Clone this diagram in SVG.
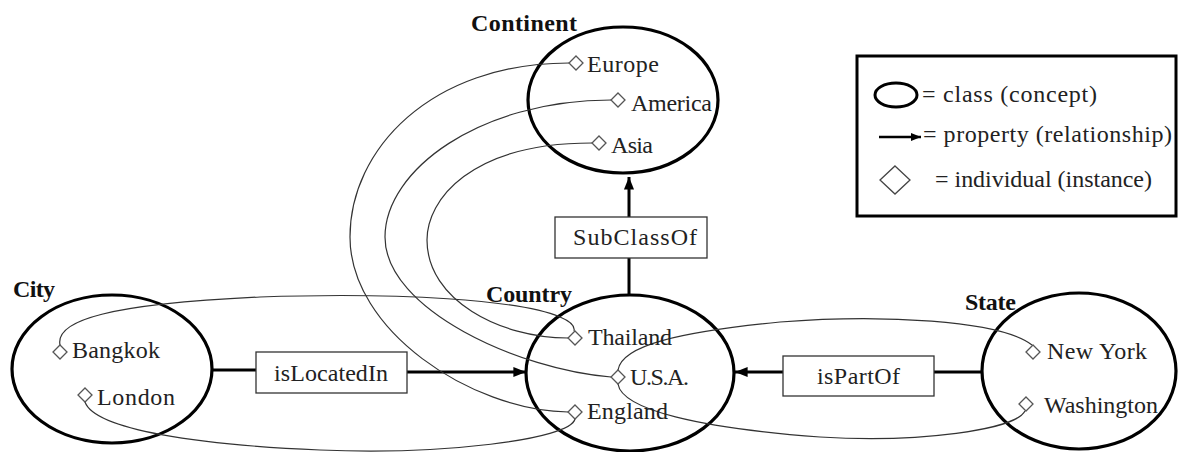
<svg xmlns="http://www.w3.org/2000/svg" width="1179" height="452" viewBox="0 0 1179 452">
  <defs>
    <marker id="arrow" viewBox="0 0 10 10" refX="10" refY="5" markerWidth="4.2" markerHeight="4.2" orient="auto" markerUnits="strokeWidth">
      <path d="M0,1 L10,5 L0,9 z" fill="#000"/>
    </marker>
    <path id="dia" d="M0,-7 L7,0 L0,7 L-7,0 z"/>
  </defs>
  <style>
    .cls { fill: none; stroke: #000; stroke-width: 3.2; }
    .rel { fill: none; stroke: #000; stroke-width: 3; }
    .box { fill: #fff; stroke: #333; stroke-width: 1.3; }
    .link { fill: none; stroke: #333; stroke-width: 1.2; }
    .ind { fill: #fff; stroke: #555; stroke-width: 1.3; }
    text { font-family: 'Liberation Serif', 'DejaVu Serif', serif; }
    .t { font-size: 24px; fill: #222; }
    .h { font-size: 24px; font-weight: bold; fill: #111; }
  </style>
  <rect width="1179" height="452" fill="#fff"/>

  <!-- class ellipses -->
  <g id="continent">
    <ellipse class="cls" cx="623" cy="100" rx="95" ry="73"/>
    <text class="h" x="471" y="31" textLength="106">Continent</text>
  </g>
  <g id="country">
    <ellipse class="cls" cx="630" cy="373" rx="104" ry="78"/>
    <text class="h" x="486" y="302" textLength="86">Country</text>
  </g>
  <g id="city">
    <ellipse class="cls" cx="112" cy="369" rx="100" ry="74"/>
    <text class="h" x="13" y="297" textLength="42">City</text>
  </g>
  <g id="state">
    <ellipse class="cls" cx="1079" cy="371" rx="97" ry="78"/>
    <text class="h" x="965" y="310" textLength="51">State</text>
  </g>

  <!-- property connectors -->
  <g id="connectors">
    <line class="rel" x1="629" y1="294" x2="629" y2="258"/>
    <line class="rel" x1="629" y1="217" x2="629" y2="177" marker-end="url(#arrow)"/>
    <line class="rel" x1="212" y1="370" x2="256" y2="370"/>
    <line class="rel" x1="407" y1="372" x2="526" y2="372" marker-end="url(#arrow)"/>
    <line class="rel" x1="982" y1="372" x2="934" y2="372"/>
    <line class="rel" x1="783" y1="372" x2="735" y2="372" marker-end="url(#arrow)"/>

    <!-- instance links -->
    <path class="link" d="M60,345 C55,320 110,304 260,297 C400,292 520,300 560,317 C572,322 575,327 574,331"/>
    <path class="link" d="M592,143 C470,143 427,200 427,240 C427,300 500,338 568,338"/>
    <path class="link" d="M611,100 C480,100 385,170 385,237 C385,310 520,370 611,377"/>
    <path class="link" d="M569,63 C430,63 350,150 350,237 C350,330 470,410 568,412"/>
    <path class="link" d="M85,402 C95,430 200,445 320,450 C440,455 570,440 575,419"/>
    <path class="link" d="M618,370 C622,345 680,332 780,322 C880,314 1000,320 1032,345"/>
    <path class="link" d="M618,384 C622,410 700,428 820,437 C920,443 1015,430 1025,411"/>
  </g>

  <!-- property labels -->
  <g id="subclassof">
    <rect class="box" x="555" y="217" width="152" height="41"/>
    <text class="t" x="573" y="245" textLength="124">SubClassOf</text>
  </g>
  <g id="islocatedin">
    <rect class="box" x="256" y="352" width="151" height="41"/>
    <text class="t" x="274" y="381" textLength="114">isLocatedIn</text>
  </g>
  <g id="ispartof">
    <rect class="box" x="783" y="356" width="151" height="40"/>
    <text class="t" x="817" y="384" textLength="83">isPartOf</text>
  </g>

  <!-- individuals -->
  <g id="europe"><use href="#dia" class="ind" x="576" y="63"/><text class="t" x="587" y="72" textLength="72">Europe</text></g>
  <g id="america"><use href="#dia" class="ind" x="618" y="100"/><text class="t" x="631" y="111" textLength="81">America</text></g>
  <g id="asia"><use href="#dia" class="ind" x="599" y="143"/><text class="t" x="611" y="153" textLength="42">Asia</text></g>
  <g id="thailand"><use href="#dia" class="ind" x="575" y="338"/><text class="t" x="588" y="345" textLength="84">Thailand</text></g>
  <g id="usa"><use href="#dia" class="ind" x="618" y="377"/><text class="t" x="630" y="385" textLength="59">U.S.A.</text></g>
  <g id="england"><use href="#dia" class="ind" x="575" y="412"/><text class="t" x="587" y="419" textLength="81">England</text></g>
  <g id="bangkok"><use href="#dia" class="ind" x="60" y="352"/><text class="t" x="72" y="358" textLength="88">Bangkok</text></g>
  <g id="london"><use href="#dia" class="ind" x="85" y="395"/><text class="t" x="97" y="405" textLength="78">London</text></g>
  <g id="newyork"><use href="#dia" class="ind" x="1033" y="352"/><text class="t" x="1047" y="359" textLength="100">New York</text></g>
  <g id="washington"><use href="#dia" class="ind" x="1026" y="404"/><text class="t" x="1044" y="413" textLength="114">Washington</text></g>

  <!-- legend -->
  <g id="legend">
    <rect x="857" y="56" width="319" height="160" fill="#fff" stroke="#000" stroke-width="3"/>
    <ellipse cx="896" cy="95" rx="21" ry="12" fill="none" stroke="#000" stroke-width="3"/>
    <text class="t" x="922" y="102" textLength="175">= class (concept)</text>
    <line x1="879" y1="137" x2="921" y2="137" stroke="#000" stroke-width="2.5" marker-end="url(#arrow)"/>
    <text class="t" x="923" y="142" textLength="249">= property (relationship)</text>
    <path d="M895,166 L910,180 L895,194 L880,180 z" fill="#fff" stroke="#444" stroke-width="1.3"/>
    <text class="t" x="935" y="187" textLength="217">= individual (instance)</text>
  </g>
</svg>
